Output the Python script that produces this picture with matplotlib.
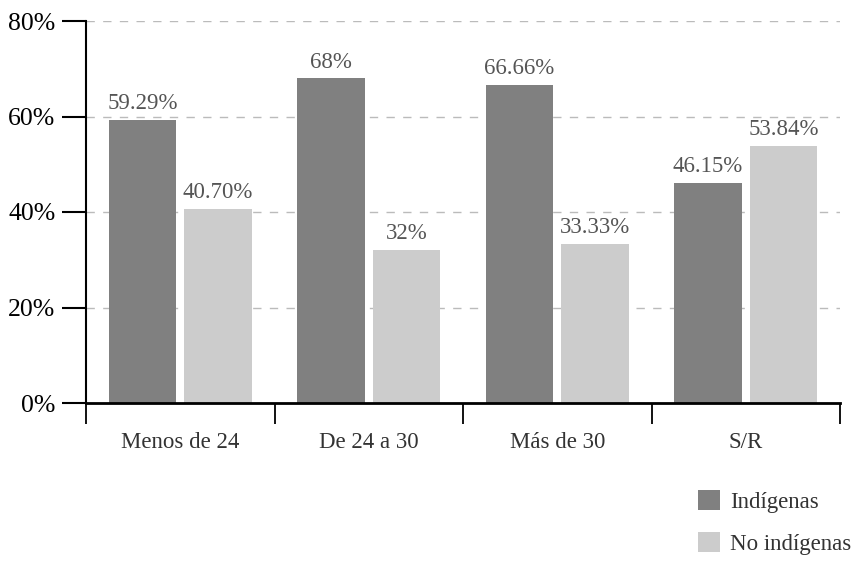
import numpy as np
import matplotlib.pyplot as plt
from matplotlib.ticker import FixedLocator, NullFormatter

plt.rcParams['font.family'] = ['Liberation Serif', 'DejaVu Serif']

categorias = ['Menos de 24', 'De 24 a 30', 'Más de 30', 'S/R']
indigenas = [59.29, 68.0, 66.66, 46.15]
no_indigenas = [40.70, 32.0, 33.33, 53.84]
etq_ind = ['59.29%', '68%', '66.66%', '46.15%']
etq_no = ['40.70%', '32%', '33.33%', '53.84%']

c_osc = '#808080'
c_cla = '#cccccc'

fig = plt.figure(figsize=(8.56, 5.61), dpi=100)
ax = fig.add_axes([86 / 856, 1 - 403 / 561, (840 - 86) / 856, (403 - 21) / 561])

x = np.arange(len(categorias))
w = 0.36
b1 = ax.bar(x - 0.2, indigenas, w, color=c_osc, zorder=2, label='Indígenas')
b2 = ax.bar(x + 0.2, no_indigenas, w, color=c_cla, zorder=2, label='No indígenas')

for rect, t in zip(b1, etq_ind):
    ax.text(rect.get_x() + rect.get_width() / 2, rect.get_height() + 1.2, t,
            ha='center', va='bottom', fontsize=16.5, color='#555555')
for rect, t in zip(b2, etq_no):
    ax.text(rect.get_x() + rect.get_width() / 2, rect.get_height() + 1.2, t,
            ha='center', va='bottom', fontsize=16.5, color='#555555')

ax.set_xlim(-0.5, 3.5)
ax.set_ylim(0, 80)
ax.set_yticks([0, 20, 40, 60, 80])
ax.set_yticklabels(['0%', '20%', '40%', '60%', '80%'], fontsize=18.5)
ax.yaxis.grid(True, color='#bbbbbb', linestyle=(0, (6, 6)), linewidth=1, zorder=0)

# category labels centred, tick marks on the boundaries
ax.set_xticks(x)
ax.set_xticklabels(categorias, fontsize=16.5, color='#333333')
ax.tick_params(axis='x', which='major', length=0, pad=21)
ax.xaxis.set_minor_locator(FixedLocator([-0.5, 0.5, 1.5, 2.5, 3.5]))
ax.xaxis.set_minor_formatter(NullFormatter())
ax.tick_params(axis='x', which='minor', length=15, width=1.3, direction='out')
ax.tick_params(axis='y', length=17, width=1.5, pad=5)

for s in ['top', 'right']:
    ax.spines[s].set_visible(False)
ax.spines['left'].set_linewidth(1.5)
ax.spines['bottom'].set_linewidth(2)
ax.spines['bottom'].set_zorder(3)

lg = fig.legend(handles=[b1, b2], loc='lower left', bbox_to_anchor=(684 / 856, -8 / 561),
                frameon=False, fontsize=16.5, handlelength=0.95, handleheight=0.95,
                handletextpad=0.45, labelspacing=0.85, borderaxespad=0.2)
for t in lg.get_texts():
    t.set_color('#333333')

plt.savefig('out.png', dpi=100)
